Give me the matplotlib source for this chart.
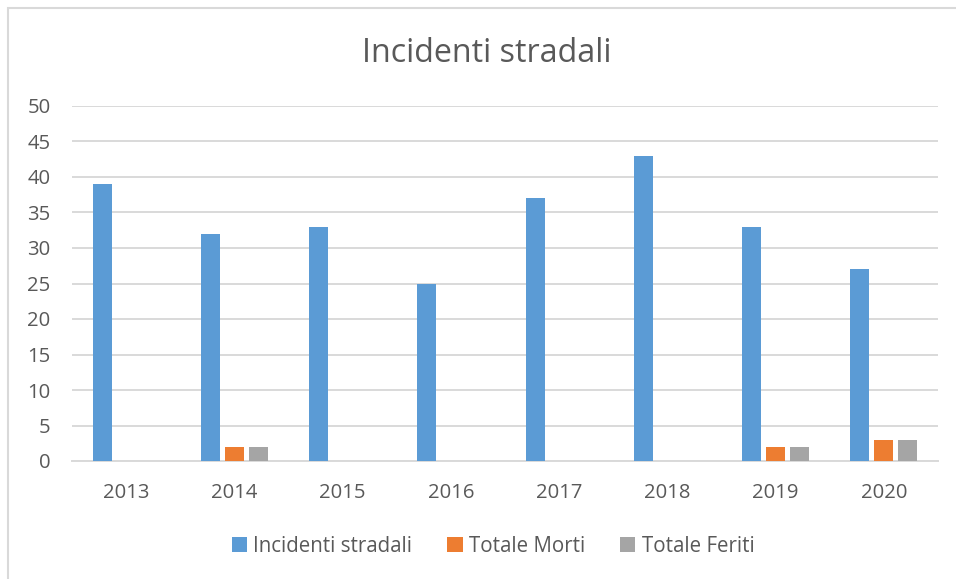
import numpy as np
import matplotlib.pyplot as plt
from matplotlib.patches import Rectangle

# data
anni = ['2013', '2014', '2015', '2016', '2017', '2018', '2019', '2020']
incidenti = [39, 32, 33, 25, 37, 43, 33, 27]
morti = [0, 2, 0, 0, 0, 0, 2, 3]
feriti = [0, 2, 0, 0, 0, 0, 2, 3]

serie = ['Incidenti stradali', 'Totale Morti', 'Totale Feriti']
colori = ['#5B9BD5', '#ED7D31', '#A5A5A5']
testo = '#595959'

plt.rcParams['font.family'] = ['Open Sans', 'DejaVu Sans']

fig = plt.figure(figsize=(9.56, 5.79), dpi=100)
ax = fig.add_axes([72/956, 1-461/579, (938-72)/956, (461-106)/579])

x = np.arange(len(anni))
w = 0.175
off = 0.222
for i, (vals, nome, col) in enumerate(zip([incidenti, morti, feriti], serie, colori)):
    ax.bar(x + (i-1)*off, vals, width=w, color=col, label=nome, zorder=3)

ax.set_xlim(-0.5, len(anni)-0.5)
ax.set_ylim(0, 50)
ax.set_yticks(np.arange(0, 51, 5))
ax.set_xticks(x)
ax.set_xticklabels(anni)
ax.grid(axis='y', color='#D9D9D9', linewidth=1.4, zorder=0)
for s in ['top', 'right', 'left']:
    ax.spines[s].set_visible(False)
ax.spines['bottom'].set_color('#D9D9D9')
ax.spines['bottom'].set_linewidth(1.4)
ax.tick_params(axis='both', length=0, labelsize=14.6, colors=testo)
ax.tick_params(axis='y', pad=15.5)
ax.tick_params(axis='x', pad=15.5)

fig.text(487/956, 1-53/579, 'Incidenti stradali', ha='center', va='center',
         fontsize=23.2, color=testo)

fig.legend(loc='center', bbox_to_anchor=(493/956, 1-546/579), ncol=3,
           frameon=False, fontsize=14.8, handlelength=0.75, handleheight=0.75,
           handletextpad=0.3, columnspacing=1.7, labelcolor=testo)

# outer chart border (only top and left visible in the crop)
fig.add_artist(Rectangle((7.5/956, -0.1), 1.2, 1.1 - 7.5/579, transform=fig.transFigure,
                         fill=False, edgecolor='#D9D9D9', linewidth=1.5))

fig.savefig('out.png', dpi=100)
